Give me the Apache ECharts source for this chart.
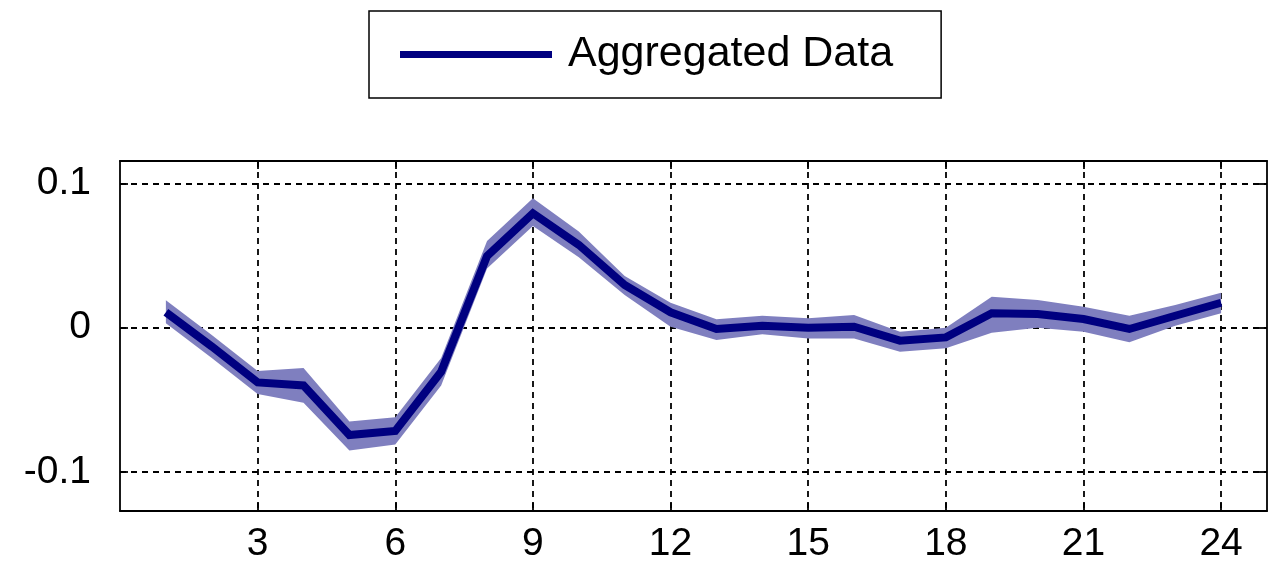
<!DOCTYPE html>
<html>
<head>
<meta charset="utf-8">
<script src="https://cdn.jsdelivr.net/npm/echarts@6/dist/echarts.min.js"></script>
<style>
html,body{margin:0;padding:0;background:#fff;}
#chart{width:1277px;height:564px;}
</style>
</head>
<body>
<div id="chart"></div>
<script>
// ---- data ----
const xValues = [1,2,3,4,5,6,7,8,9,10,11,12,13,14,15,16,17,18,19,20,21,22,23,24];
const meanValues = [0.0107,-0.013,-0.0379,-0.040,-0.0744,-0.0716,-0.0305,0.0497,0.0793,0.0574,0.0296,0.0107,
  -0.0009,0.0014,0.0,0.0007,-0.009,-0.0067,0.010,0.0095,0.006,-0.0009,0.0083,0.0173];
const upperValues = [0.019,-0.005,-0.030,-0.028,-0.065,-0.062,-0.021,0.060,0.0897,0.0666,0.0359,0.0173,
  0.0058,0.0083,0.0065,0.0088,-0.0028,0.0,0.0215,0.0192,0.0146,0.0083,0.0157,0.0243];
const lowerValues = [0.003,-0.021,-0.046,-0.052,-0.085,-0.081,-0.040,0.041,0.0705,0.0488,0.0227,0.0007,
  -0.0085,-0.0046,-0.0074,-0.0074,-0.0166,-0.0143,-0.0035,0.0,-0.0028,-0.0101,0.0014,0.010];
const xTicks = [3,6,9,12,15,18,21,24];
const yTicks = [-0.1,0,0.1];
const seriesName = 'Aggregated Data';

const FONT = '"Liberation Sans", Arial, Helvetica, sans-serif';
const chart = echarts.init(document.getElementById('chart'), null, {renderer:'canvas'});

const bandData = xValues.map((x,i)=>[x, lowerValues[i], upperValues[i]]);
const meanData = xValues.map((x,i)=>[x, meanValues[i]]);

const gridLine = {show:true, lineStyle:{color:'#000', type:[6,5], width:1.8}};
const axisLineStyle = {show:true, onZero:false, lineStyle:{color:'#000', width:1.8}};

function renderBand(params, api){
  if (params.dataIndex !== 0) return null;
  const top = bandData.map(d => api.coord([d[0], d[2]]));
  const bottom = bandData.slice().reverse().map(d => api.coord([d[0], d[1]]));
  return {
    type:'polygon',
    shape:{points: top.concat(bottom)},
    style:{fill:'#7f7fbf', stroke:null}
  };
}

chart.setOption({
  animation:false,
  backgroundColor:'#fff',
  legend:{
    data:[{name:seriesName, icon:'rect'}],
    left:369, top:11,
    itemWidth:152, itemHeight:7, itemGap:0,
    padding:[22,48,22,31],
    borderColor:'#000', borderWidth:1.5, borderRadius:0,
    textStyle:{fontFamily:FONT, fontSize:43, color:'#000', padding:[0,0,0,11]},
    selectedMode:false
  },
  grid:{left:120, right:10, top:161, bottom:53, show:false},
  xAxis:[{
    type:'value', min:0, max:25, position:'bottom',
    axisLine:axisLineStyle,
    axisTick:{show:true, inside:true, length:8, customValues:xTicks, lineStyle:{color:'#000', width:1.8}},
    axisLabel:{customValues:xTicks, fontFamily:FONT, fontSize:39, color:'#000', margin:14},
    splitLine:gridLine
  },{
    type:'value', min:0, max:25, position:'top',
    axisLine:axisLineStyle,
    axisTick:{show:true, inside:true, length:8, customValues:xTicks, lineStyle:{color:'#000', width:1.8}},
    axisLabel:{show:false}, splitLine:{show:false}
  }],
  yAxis:[{
    type:'value', min:-0.127, max:0.1155, position:'left',
    axisLine:axisLineStyle,
    axisTick:{show:true, inside:true, length:8, customValues:yTicks, lineStyle:{color:'#000', width:1.8}},
    axisLabel:{customValues:yTicks, fontFamily:FONT, fontSize:39, color:'#000', margin:29},
    splitLine:gridLine
  },{
    type:'value', min:-0.127, max:0.1155, position:'right',
    axisLine:axisLineStyle,
    axisTick:{show:true, inside:true, length:8, customValues:yTicks, lineStyle:{color:'#000', width:1.8}},
    axisLabel:{show:false}, splitLine:{show:false}
  }],
  series:[
    {name:'band', type:'custom', renderItem:renderBand, data:bandData,
     encode:{x:0, y:[1,2]}, silent:true, clip:true, z:2},
    {name:seriesName, type:'line', data:meanData, symbol:'none',
     itemStyle:{color:'#000080'},
     lineStyle:{color:'#000080', width:8, join:'miter'}, z:3}
  ]
});
</script>
</body>
</html>
